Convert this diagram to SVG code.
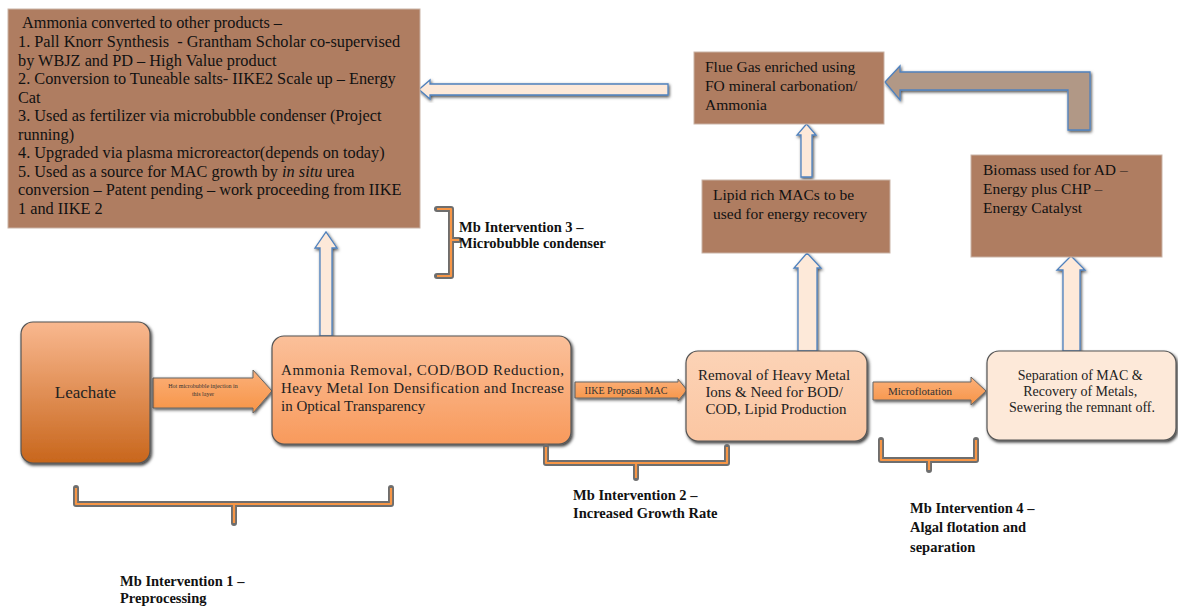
<svg xmlns="http://www.w3.org/2000/svg" width="1178" height="606" viewBox="0 0 1178 606">
  <defs>
    <linearGradient id="gLeach" x1="0" y1="0" x2="0" y2="1">
      <stop offset="0" stop-color="#f9b88f"/>
      <stop offset="1" stop-color="#c8661c"/>
    </linearGradient>
    <linearGradient id="gAmm" x1="0" y1="0" x2="0" y2="1">
      <stop offset="0" stop-color="#fbc09a"/>
      <stop offset="1" stop-color="#f89a5c"/>
    </linearGradient>
    <linearGradient id="gRem" x1="0" y1="0" x2="0" y2="1">
      <stop offset="0" stop-color="#fcd3b6"/>
      <stop offset="1" stop-color="#fbc6a2"/>
    </linearGradient>
    <linearGradient id="gArr" x1="0" y1="0" x2="0" y2="1">
      <stop offset="0" stop-color="#fbb07a"/>
      <stop offset="1" stop-color="#f79446"/>
    </linearGradient>
    <filter id="sh" x="-10%" y="-10%" width="120%" height="130%">
      <feDropShadow dx="1.5" dy="2" stdDeviation="1.6" flood-color="#000" flood-opacity="0.75"/>
    </filter>
    <filter id="shA" x="-20%" y="-20%" width="140%" height="140%">
      <feDropShadow dx="1" dy="1.5" stdDeviation="1.8" flood-color="#000" flood-opacity="0.7"/>
    </filter>
  </defs>
  <style>
    .note { fill: #af7d61; stroke: #c9b3a6; stroke-width: 1; }
    .tn { font-family: "Liberation Serif", serif; font-size: 16.3px; fill: #111; white-space: pre; }
    .tn2 { font-family: "Liberation Serif", serif; font-size: 15.5px; fill: #111; }
    .proc { stroke: #555; stroke-width: 1.2; filter: url(#sh); }
    .tp { font-family: "Liberation Serif", serif; font-size: 15px; fill: #222; }
    .tp2 { font-family: "Liberation Serif", serif; font-size: 14px; fill: #222; }
    .blk { fill: #fde9d9; stroke: #4f81bd; stroke-width: 1.3; filter: url(#shA); }
    .fb { fill: url(#gArr); stroke: #666; stroke-width: 1; filter: url(#shA); }
    .braceU { fill: none; stroke: #6e6e6e; stroke-width: 6; stroke-linejoin: round; stroke-linecap: round; }
    .braceO { fill: none; stroke: #f79646; stroke-width: 2.2; stroke-linejoin: round; }
    .tm { font-family: "Liberation Serif", serif; font-size: 14.5px; font-weight: bold; fill: #111; }
  </style>

  <rect width="1178" height="606" fill="#fff"/>

  <!-- connectors -->
  <g id="connectors">
    <!-- Leachate to treatment -->
    <path class="fb" d="M153,378 L253,378 L253,370 L272,391 L253,413 L253,408 L153,408 Z"/>
    <text x="203" y="388" text-anchor="middle" font-family="Liberation Serif, serif" font-size="6" fill="#333">Hot microbubble injection in</text>
    <text x="203" y="396" text-anchor="middle" font-family="Liberation Serif, serif" font-size="6" fill="#333">this layer</text>
    <!-- IIKE proposal arrow -->
    <path class="fb" d="M575,382 L678,382 L678,379 L687,390 L678,401 L678,398 L575,398 Z"/>
    <text x="626" y="394" text-anchor="middle" font-family="Liberation Serif, serif" font-size="10" fill="#333">IIKE Proposal MAC</text>
    <!-- Microflotation arrow -->
    <path class="fb" d="M873,382 L971,382 L971,377 L986,391 L971,405 L971,400 L873,400 Z"/>
    <text x="920" y="395" text-anchor="middle" font-family="Liberation Serif, serif" font-size="11" fill="#333">Microflotation</text>

    <!-- vertical block arrows -->
    <path class="blk" d="M320,336 L320,248 L315,248 L326,232 L337,248 L332,248 L332,336 Z"/>
    <path class="blk" d="M798,351 L798,268 L794,268 L807,253 L821,268 L817,268 L817,351 Z"/>
    <path class="blk" d="M801,177 L801,135 L797,135 L806.5,124 L816,135 L812,135 L812,177 Z"/>
    <path class="blk" d="M1063,351 L1063,270 L1057,270 L1071,256 L1085,270 L1080,270 L1080,351 Z"/>

    <!-- return arrow to products box -->
    <path class="blk" d="M668,84 L430,84 L430,80 L419,89.5 L430,99 L430,95 L668,95 Z"/>

    <!-- bent return arrow from biomass side to flue gas -->
    <path d="M1068,130 L1068,90 L900,90 L900,100 L885,82 L900,66 L900,72 L1090,72 L1090,130 Z" fill="#b19886" stroke="#4f81bd" stroke-width="1.3" filter="url(#shA)"/>
  </g>

  <!-- products box -->
  <g id="node-products">
    <rect class="note" x="8" y="9" width="412" height="219"/>
    <text class="tn">
      <tspan x="22" y="28">Ammonia converted to other products –</tspan>
      <tspan x="18" y="47">1. Pall Knorr Synthesis  - Grantham Scholar co-supervised</tspan>
      <tspan x="18" y="65.5">by WBJZ and PD – High Value product</tspan>
      <tspan x="18" y="84">2. Conversion to Tuneable salts- IIKE2 Scale up – Energy</tspan>
      <tspan x="18" y="102.5">Cat</tspan>
      <tspan x="18" y="121">3. Used as fertilizer via microbubble condenser (Project</tspan>
      <tspan x="18" y="139.5">running)</tspan>
      <tspan x="18" y="158">4. Upgraded via plasma microreactor(depends on today)</tspan>
      <tspan x="18" y="176.5">5. Used as a source for MAC growth by <tspan font-style="italic">in situ</tspan> urea</tspan>
      <tspan x="18" y="195">conversion – Patent pending – work proceeding from IIKE</tspan>
      <tspan x="18" y="213.5">1 and IIKE 2</tspan>
    </text>
  </g>

  <g id="node-fluegas">
    <rect class="note" x="694" y="52" width="190" height="72"/>
    <text class="tn2">
      <tspan x="705" y="72">Flue Gas enriched using</tspan>
      <tspan x="705" y="91">FO mineral carbonation/</tspan>
      <tspan x="705" y="110">Ammonia</tspan>
    </text>
  </g>

  <g id="node-lipid">
    <rect class="note" x="702" y="180" width="188" height="73"/>
    <text class="tn2">
      <tspan x="713" y="200">Lipid rich MACs to be</tspan>
      <tspan x="713" y="219">used for energy recovery</tspan>
    </text>
  </g>

  <g id="node-biomass">
    <rect class="note" x="971" y="155" width="191" height="102"/>
    <text class="tn2">
      <tspan x="983" y="175">Biomass used for AD –</tspan>
      <tspan x="983" y="194">Energy plus CHP –</tspan>
      <tspan x="983" y="213">Energy Catalyst</tspan>
    </text>
  </g>

  <!-- process chain -->
  <g id="node-leachate">
    <rect class="proc" x="21" y="322" width="129" height="141" rx="12" fill="url(#gLeach)"/>
    <text x="85.5" y="398" text-anchor="middle" font-family="Liberation Serif, serif" font-size="17" fill="#222">Leachate</text>
  </g>

  <g id="node-treatment">
    <rect class="proc" x="272" y="336" width="299" height="108" rx="12" fill="url(#gAmm)"/>
    <text class="tp">
      <tspan x="281" y="375" textLength="283" lengthAdjust="spacing">Ammonia Removal, COD/BOD Reduction,</tspan>
      <tspan x="281" y="393" textLength="283" lengthAdjust="spacing">Heavy Metal Ion Densification and Increase</tspan>
      <tspan x="281" y="411">in Optical Transparency</tspan>
    </text>
  </g>

  <g id="node-removal">
    <rect class="proc" x="686" y="351" width="181" height="90" rx="12" fill="url(#gRem)"/>
    <text class="tp" text-anchor="middle">
      <tspan x="776" y="380">Removal of Heavy Metal</tspan>
      <tspan x="776" y="397">Ions &amp; Need for BOD/</tspan>
      <tspan x="776" y="414">COD, Lipid Production</tspan>
    </text>
  </g>

  <g id="node-separation">
    <rect class="proc" x="987" y="351" width="189" height="89" rx="12" fill="#fde9d9"/>
    <text class="tp2" text-anchor="middle">
      <tspan x="1082" y="380">Separation of MAC &amp;</tspan>
      <tspan x="1082" y="396">Recovery of Metals,</tspan>
      <tspan x="1082" y="412">Sewering the remnant off.</tspan>
    </text>
  </g>

  <!-- microbubble intervention brackets -->
  <g id="brace-1">
    <path class="braceU" d="M76,488 L76,504 L391,504 L391,488 M234,504 L234,523"/>
    <path class="braceO" d="M76,488 L76,504 L391,504 L391,488 M234,504 L234,523"/>
    <text class="tm"><tspan x="120" y="586">Mb Intervention 1 –</tspan><tspan x="120" y="603">Preprocessing</tspan></text>
  </g>

  <g id="brace-2">
    <path class="braceU" d="M546,447 L546,463 L727,463 L727,447 M636,463 L636,478"/>
    <path class="braceO" d="M546,447 L546,463 L727,463 L727,447 M636,463 L636,478"/>
    <text class="tm"><tspan x="573" y="500">Mb Intervention 2 –</tspan><tspan x="573" y="518">Increased Growth Rate</tspan></text>
  </g>

  <g id="brace-3">
    <path class="braceU" d="M437,209 L451,209 L451,276 L437,276 M451,240 L459,240"/>
    <path class="braceO" d="M437,209 L451,209 L451,276 L437,276 M451,240 L459,240"/>
    <text class="tm"><tspan x="459" y="232">Mb Intervention 3 –</tspan><tspan x="459" y="248">Microbubble condenser</tspan></text>
  </g>

  <g id="brace-4">
    <path class="braceU" d="M881,440 L881,460 L976,460 L976,440 M929,460 L929,470"/>
    <path class="braceO" d="M881,440 L881,460 L976,460 L976,440 M929,460 L929,470"/>
    <text class="tm"><tspan x="910" y="513">Mb Intervention 4 –</tspan><tspan x="910" y="532">Algal flotation and</tspan><tspan x="910" y="552">separation</tspan></text>
  </g>
</svg>
